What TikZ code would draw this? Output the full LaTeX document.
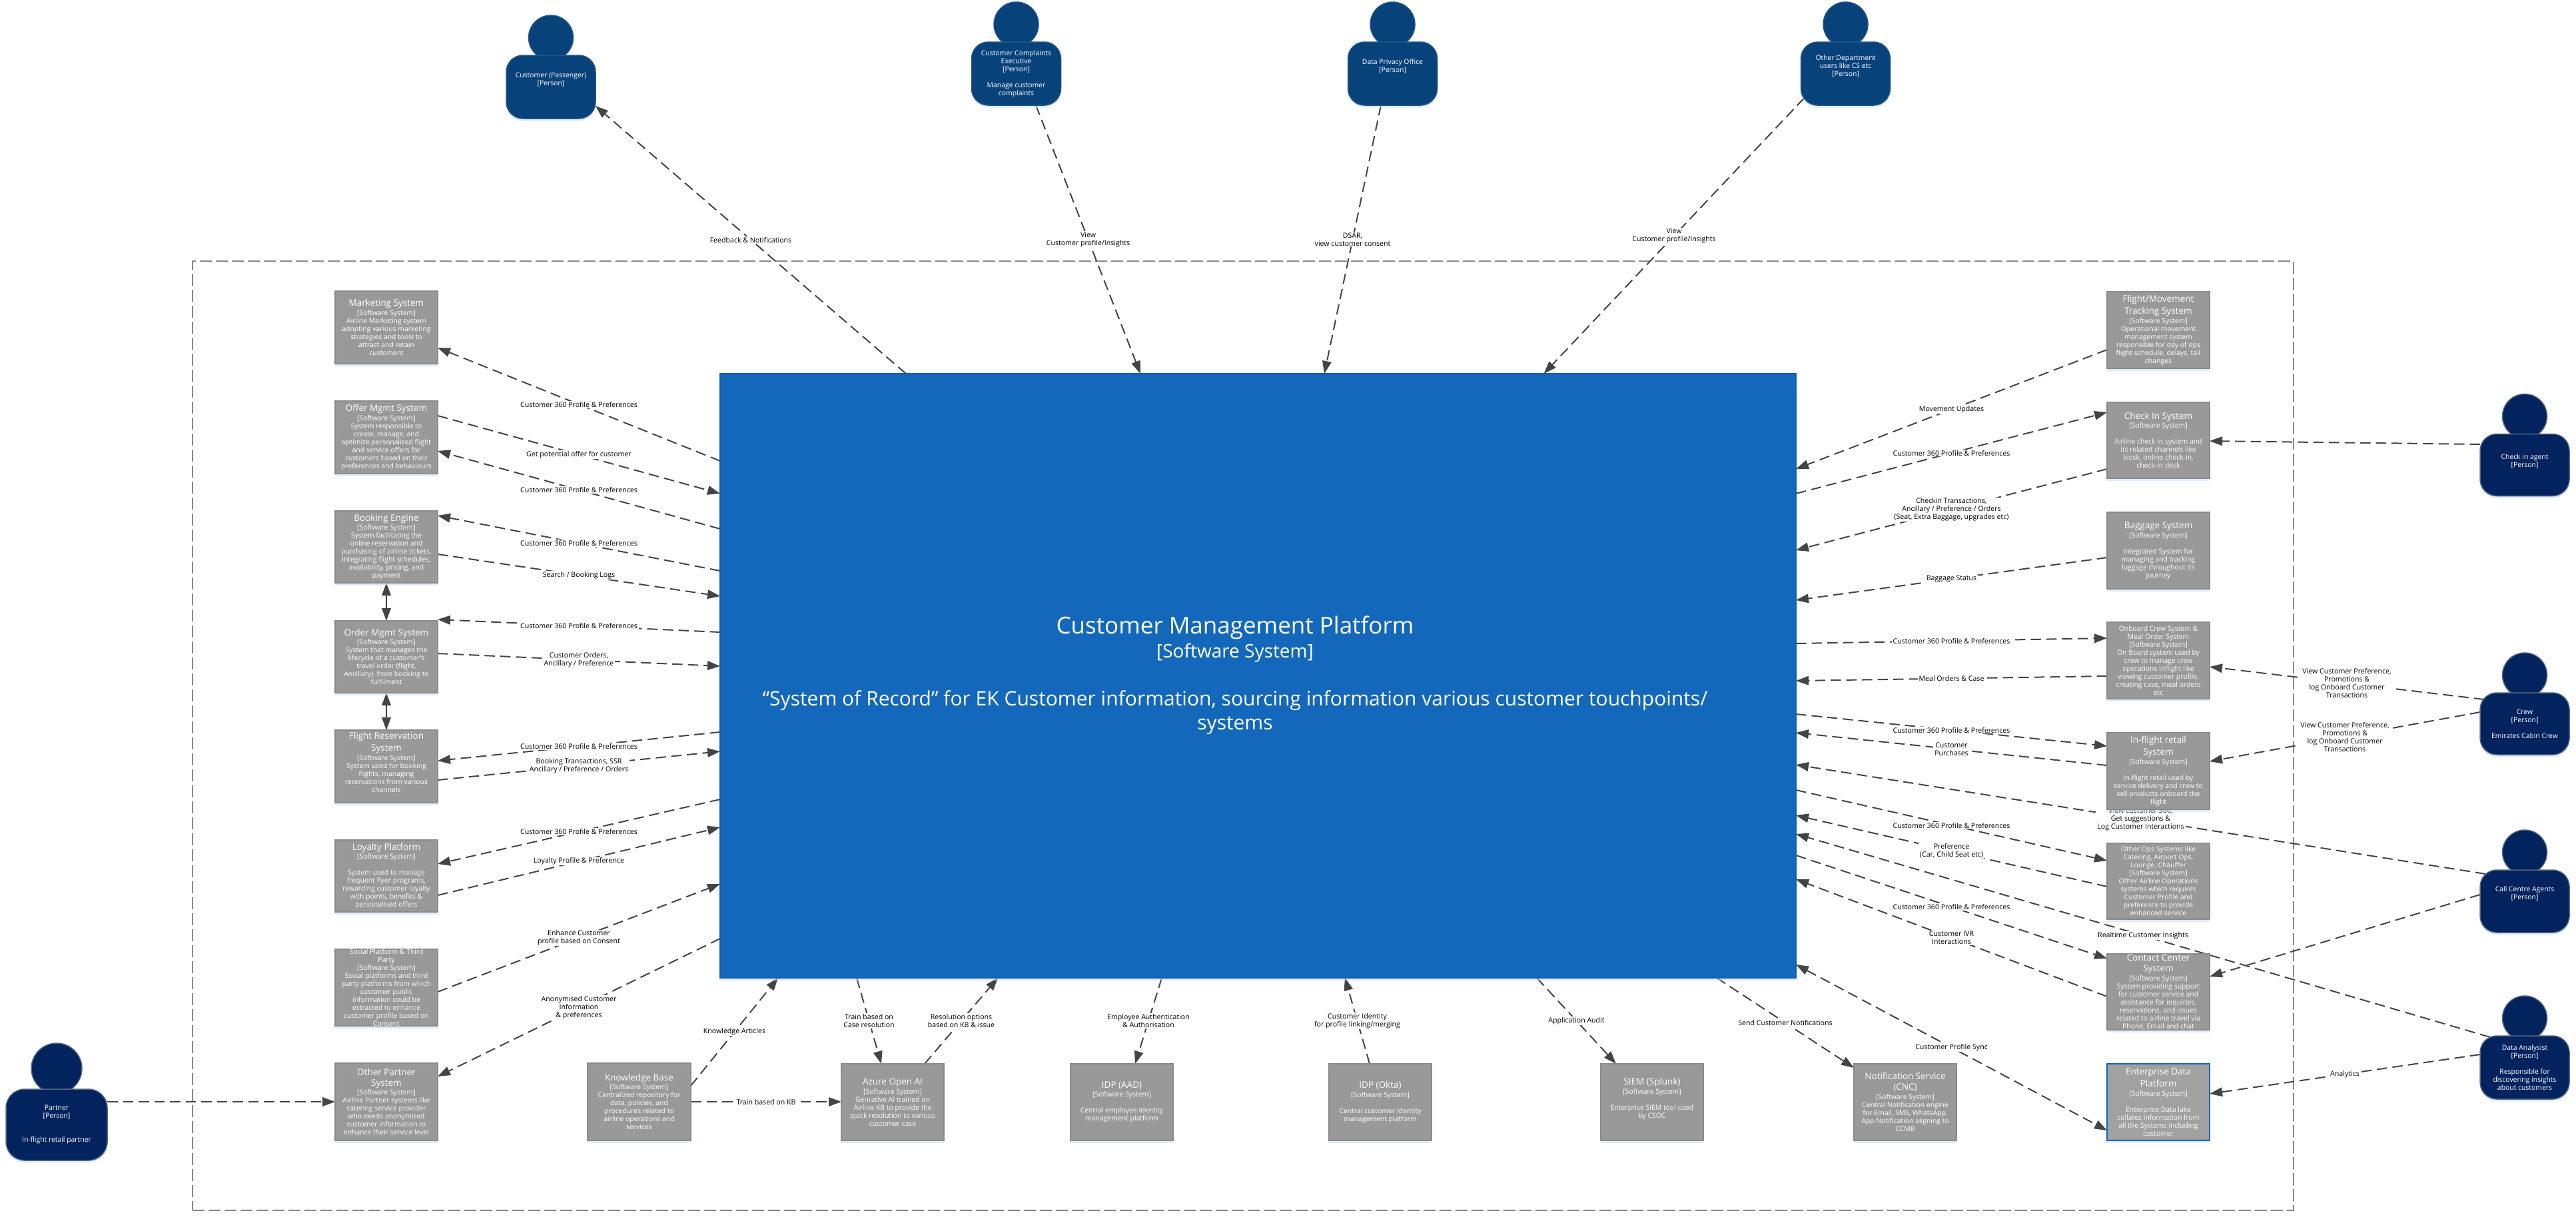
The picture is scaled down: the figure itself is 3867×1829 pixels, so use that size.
\documentclass[tikz,border=0pt]{standalone}
\usepackage{fontspec}
\setmainfont{Open Sans}
\usetikzlibrary{arrows.meta,shadows,calc}
\definecolor{sysgrey}{HTML}{999999}
\definecolor{sysedge}{HTML}{8B8B8B}
\definecolor{mainblue}{HTML}{1468BC}
\definecolor{mainedge}{HTML}{0F5EAB}
\definecolor{edpblue}{HTML}{1168BD}
\definecolor{topperson}{HTML}{08427B}
\definecolor{sideperson}{HTML}{03235E}
\definecolor{sideedge}{HTML}{56677F}
\definecolor{relcol}{HTML}{444444}
\definecolor{bndcol}{HTML}{888888}
\definecolor{shadowcol}{HTML}{C4DAF2}
\pgfdeclarelayer{bg}
\pgfsetlayers{bg,main}
\newcommand\tone[1]{{\fontsize{13.5}{16}\selectfont #1}\\[1.7pt]}
\newcommand\ttwo[2]{{\fontsize{13.5}{16}\selectfont #1}\\[4pt]{\fontsize{13.5}{16}\selectfont #2}\\[1.7pt]}
\newcommand\blk{~\\}
\newcommand\tailone{\\~}
\newcommand\tailtwo{\\~\\~}
\tikzset{
 softshadow/.style={drop shadow={shadow xshift=0pt,shadow yshift=-3.5pt,fill=shadowcol,opacity=0.55}},
 sysbox/.style={draw=sysedge,line width=1.6pt,fill=sysgrey,inner sep=0pt,outer sep=0pt,softshadow},
 edpbox/.style={draw=edpblue,line width=2.2pt,fill=black!37},
 boxtext/.style={text=white,align=center,inner sep=0pt,font=\fontsize{10.4}{12}\selectfont},
 mainbox/.style={draw=mainedge,line width=1.5pt,fill=mainblue,inner sep=0pt,outer sep=0pt,softshadow},
 maintext/.style={text=white,align=center,inner sep=0pt,font=\fontsize{30}{36}\selectfont},
 personbody/.style={inner sep=0pt,outer sep=0pt,line width=1.5pt,softshadow},
 personhead/.style={circle,inner sep=0pt,outer sep=0pt,line width=1.5pt},
 topp/.style={fill=topperson,draw=topperson!90!white},
 sidep/.style={fill=sideperson,draw=sideedge},
 bndbox/.style={draw=bndcol,line width=2pt,dash pattern=on 18pt off 6pt,inner sep=0pt,outer sep=0pt},
 rel/.style={draw=relcol,line width=2pt,dash pattern=on 15.5pt off 8pt,-{Triangle[length=19pt,width=13.5pt]}},
 relboth/.style={rel,{Triangle[length=19pt,width=13.5pt]}-{Triangle[length=19pt,width=13.5pt]}},
 relsolid/.style={draw=relcol,line width=2pt,{Triangle[length=19pt,width=13.5pt]}-{Triangle[length=19pt,width=13.5pt]}},
 lbl/.style={fill=white,text=black,align=center,inner xsep=2pt,inner ysep=1pt,font=\fontsize{10.6}{12}\selectfont}
}
% [opts]{name}{x0}{y0}{x1}{y1}{text}
\newcommand\sysnode[6][]{%
 \node[sysbox,#1,minimum width={#5-#3},minimum height={#6-#4}] (#2) at ({(#3+#5)/2},{(#4+#6)/2}) {};}
\newcommand\systext[2]{\node[boxtext] (#1-t) at (#1.center) {#2};}
% {name}{style}{cx}{top}{w}{h}{r}{headr}{headlift}
\newcommand\personnode[9]{%
 \node[personhead,#2,minimum size={2*#8}] (#1-h) at (#3,{#4-#9}) {};
 \node[personbody,#2,minimum width=#5,minimum height=#6,rounded corners=#7] (#1) at (#3,{#4+#6/2}) {};}
\begin{document}
\begin{tikzpicture}[x=1pt,y=-1pt]
\useasboundingbox (0,0) rectangle (3867,1829);

% central system
\node[mainbox,minimum width=1615,minimum height=907] (main) at (1888.5,1014.5) {};
\node[maintext] (main-t) at (1854,1014) {{\fontsize{35}{36}\selectfont Customer Management Platform}\\{\fontsize{28}{36}\selectfont [Software System]}\\ \blk “System of Record” for EK Customer information, sourcing information various customer touchpoints/\\systems};

% left column
\sysnode{marketing}{503}{437}{657}{546}
\systext{marketing}{\tone{Marketing System}{}[Software System]\\Airline Marketing system\\adopting various marketing\\strategies and tools to\\attract and retain\\customers}
\sysnode{offer}{503}{602}{657}{711}
\systext{offer}{\tone{Offer Mgmt System}{}[Software System]\\System responsible to\\create, manage, and\\optimize personalized flight\\and service offers for\\customers based on their\\preferences and behaviours}
\sysnode{booking}{503}{767}{657}{875}
\systext{booking}{\tone{Booking Engine}{}[Software System]\\System facilitating the\\online reservation and\\purchasing of airline tickets,\\integrating flight schedules,\\availability, pricing, and\\payment}
\sysnode{order}{503}{932}{657}{1040}
\systext{order}{\tone{Order Mgmt System}{}[Software System]\\System that manages the\\lifecycle of a customer's\\travel order (flight,\\Ancillary), from booking to\\fulfilment}
\sysnode{flightres}{503}{1096}{657}{1205}
\systext{flightres}{\ttwo{Flight Reservation}{System}{}[Software System]\\System used for booking\\flights, managing\\reservations from various\\channels\tailone}
\sysnode{loyalty}{503}{1261}{657}{1369}
\systext{loyalty}{\tone{Loyalty Platform}{}[Software System]\\ \blk System used to manage\\frequent flyer programs,\\rewarding customer loyalty\\with points, benefits \&\\personalised offers}
\sysnode{social}{503}{1425}{657}{1540}
\systext{social}{Social Platform \& Third\\Party\\{}[Software System]\\Social platforms and third\\party platforms from which\\customer public\\information could be\\extracted to enhance\\customer profile based on\\Consent}
\sysnode{partnersys}{503}{1596}{657}{1712}
\systext{partnersys}{\ttwo{Other Partner}{System}{}[Software System]\\Airline Partner systems like\\catering service provider\\who needs anonymised\\customer information to\\enhance their service level}

% bottom row
\sysnode{kb}{882}{1596}{1037}{1712}
\systext{kb}{\tone{Knowledge Base}{}[Software System]\\Centralized repository for\\data, policies, and\\procedures related to\\airline operations and\\services}
\sysnode{azure}{1263}{1597}{1417}{1712}
\systext{azure}{\tone{Azure Open AI}{}[Software System]\\Genrative AI trained on\\Airline KB to provide the\\quick resolution to various\\customer case}
\sysnode{aad}{1607}{1597}{1761}{1712}
\systext{aad}{\tone{IDP (AAD)}{}[Software System]\\ \blk Central employee Identity\\management platform}
\sysnode{okta}{1995}{1597}{2149}{1712}
\systext{okta}{\tone{IDP (Okta)}{}[Software System]\\ \blk Central customer Identity\\management platform}
\sysnode{siem}{2403}{1597}{2557}{1712}
\systext{siem}{\tone{SIEM (Splunk)}{}[Software System]\\ \blk Enterprise SIEM tool used\\by CSOC\tailone}
\sysnode{notif}{2783}{1597}{2937}{1712}
\systext{notif}{\ttwo{Notification Service}{(CNC)}{}[Software System]\\Central Notification engine\\for Email, SMS, WhatsApp,\\App Notification aligning to\\CCMB}

% right column
\sysnode{flightmove}{3163}{438}{3317}{553}
\systext{flightmove}{\ttwo{Flight/Movement}{Tracking System}{}[Software System]\\Operational movement\\management system\\responsible for day of ops\\flight schedule, delays, tail\\changes}
\sysnode{checkin}{3163}{604}{3317}{718}
\systext{checkin}{\tone{Check In System}{}[Software System]\\ \blk Airline check in system and\\its related channels like\\kiosk, online check-in,\\check-in desk}
\sysnode{baggage}{3163}{769}{3317}{884}
\systext{baggage}{\tone{Baggage System}{}[Software System]\\ \blk Integrated System for\\managing and tracking\\luggage throughout its\\journey}
\sysnode{onboard}{3163}{934}{3317}{1049}
\systext{onboard}{Onboard Crew System \&\\Meal Order System\\{}[Software System]\\On Board system used by\\crew to manage crew\\operations inflight like\\viewing customer profile,\\creating case, meal orders\\etc}
\sysnode{inflight}{3163}{1100}{3317}{1215}
\systext{inflight}{\ttwo{In-flight retail}{System}{}[Software System]\\ \blk In-flight retail used by\\service delivery and crew to\\sell products onboard the\\flight}
\sysnode{otherops}{3163}{1266}{3317}{1380}
\systext{otherops}{Other Ops Systems like\\Catering, Airport Ops,\\Lounge, Chauffer\\{}[Software System]\\Other Airline Operations\\systems which requires\\Customer Profile and\\preference to provide\\enhanced service}
\sysnode{contact}{3163}{1432}{3317}{1546}
\systext{contact}{\ttwo{Contact Center}{System}{}[Software System]\\System providing support\\for customer service and\\assistance for inquiries,\\reservations, and issues\\related to airline travel via\\Phone, Email and chat}
\sysnode[edpbox]{edp}{3163}{1597}{3317}{1712}
\systext{edp}{\ttwo{Enterprise Data}{Platform}{}[Software System]\\ \blk Enterprise Data lake\\collates information from\\all the Systems including\\customer}

% people
\personnode{pcust}{topp}{827}{83}{134}{95}{25}{33.5}{26.5}
\systext{pcust}{Customer (Passenger)\\{}[Person]\tailtwo}
\personnode{pcomp}{topp}{1525.5}{63}{134}{95}{25}{33.5}{26.5}
\systext{pcomp}{Customer Complaints\\Executive\\{}[Person]\\ \blk Manage customer\\complaints}
\personnode{pdpo}{topp}{2090.5}{63}{134}{95}{25}{33.5}{26.5}
\systext{pdpo}{Data Privacy Office\\{}[Person]\tailtwo}
\personnode{pdept}{topp}{2770.5}{63}{134}{95}{25}{33.5}{26.5}
\systext{pdept}{Other Department\\users like CS etc\\{}[Person]\tailtwo}
\personnode{ppartner}{sidep}{85}{1635}{152}{107}{28}{38}{31}
\systext{ppartner}{Partner\\{}[Person]\\ \blk\blk In-flight retail partner}
\personnode{pagent}{sidep}{3790}{651.5}{134}{93}{25}{33.5}{26.5}
\systext{pagent}{Check in agent\\{}[Person]\tailone}
\personnode{pcrew}{sidep}{3790}{1040}{134}{93}{25}{33.5}{26.5}
\systext{pcrew}{Crew\\{}[Person]\\ \blk Emirates Cabin Crew}
\personnode{pcall}{sidep}{3790}{1306}{134}{94}{25}{33.5}{26.5}
\systext{pcall}{Call Centre Agents\\{}[Person]\tailtwo}
\personnode{pana}{sidep}{3790}{1555}{134}{95}{25}{33.5}{26.5}
\systext{pana}{Data Analysist\\{}[Person]\\ \blk Responsible for\\discovering insights\\about customers}

\begin{pgfonlayer}{bg}
\node[bndbox,minimum width=3154,minimum height=1425] (bnd) at (1866,1104.5) {};

% left side
\draw[rel] (main.west |- 0,692) -- node[lbl] {Customer 360 Profile \& Preferences} (marketing.east |- 0,522);
\draw[rel] (offer.east |- 0,624) -- node[lbl] {Get potential offer for customer} (main.west |- 0,741);
\draw[rel] (main.west |- 0,794) -- node[lbl] {Customer 360 Profile \& Preferences} (offer.east |- 0,677);
\draw[rel] (main.west |- 0,857) -- node[lbl] {Customer 360 Profile \& Preferences} (booking.east |- 0,774);
\draw[rel] (booking.east |- 0,832) -- node[lbl] {Search / Booking Logs} (main.west |- 0,895);
\draw[relsolid] (booking.south) -- (order.north);
\draw[rel] (main.west |- 0,949) -- node[lbl] {Customer 360 Profile \& Preferences} (order.east |- 0,930);
\draw[rel] (order.east |- 0,981) -- node[lbl] {Customer Orders,\\Ancillary / Preference} (main.west |- 0,1000);
\draw[relsolid] (order.south) -- (flightres.north);
\draw[rel] (main.west |- 0,1099) -- node[lbl] {Customer 360 Profile \& Preferences} (flightres.east |- 0,1142);
\draw[rel] (flightres.east |- 0,1171) -- node[lbl] {Booking Transactions, SSR\\Ancillary / Preference / Orders} (main.west |- 0,1128);
\draw[rel] (main.west |- 0,1200) -- node[lbl] {Customer 360 Profile \& Preferences} (loyalty.east |- 0,1297);
\draw[rel] (loyalty.east |- 0,1344) -- node[lbl] {Loyalty Profile \& Preference} (main.west |- 0,1242);
\draw[rel] (social.east |- 0,1489) -- node[lbl] {Enhance Customer\\profile based on Consent} (main.west |- 0,1327);
\draw[rel] (main.west |- 0,1409) -- node[lbl] {Anonymised Customer\\Information\\\& preferences} (partnersys.east |- 0,1616);
\draw[rel] (ppartner.east |- 0,1654) -- (partnersys.west |- 0,1654);

% bottom side
\draw[rel] (kb.east |- 0,1630) -- node[lbl] {Knowledge Articles} (1168,0 |- main.south);
\draw[rel] (kb.east |- 0,1654) -- node[lbl] {Train based on KB} (azure.west |- 0,1654);
\draw[rel] (1286,0 |- main.south) -- node[lbl] {Train based on\\Case resolution} (1323,0 |- azure.north);
\draw[rel] (1388,0 |- azure.north) -- node[lbl] {Resolution options\\based on KB \& issue} (1498,0 |- main.south);
\draw[rel] (1744,0 |- main.south) -- node[lbl] {Employee Authentication\\\& Authorisation} (1704,0 |- aad.north);
\draw[rel] (2056,0 |- okta.north) -- node[lbl] {Customer Identity\\for profile linking/merging} (2019,0 |- main.south);
\draw[rel] (2307,0 |- main.south) -- node[lbl] {Application Audit} (2426,0 |- siem.north);
\draw[rel] (2577,0 |- main.south) -- node[lbl] {Send Customer Notifications} (notif.west |- 0,1603);
\draw[relboth] (main.east |- 0,1448) -- node[lbl] {Customer Profile Sync} (edp.west |- 0,1697);

% right side
\draw[rel] (flightmove.west |- 0,525) -- node[lbl] {Movement Updates} (main.east |- 0,704);
\draw[rel] (main.east |- 0,741) -- node[lbl] {Customer 360 Profile \& Preferences} (checkin.west |- 0,619);
\draw[rel] (checkin.west |- 0,704) -- node[lbl] {Checkin Transactions,\\Ancillary / Preference / Orders\\(Seat, Extra Baggage, upgrades etc)} (main.east |- 0,826);
\draw[rel] (baggage.west |- 0,837) -- node[lbl] {Baggage Status} (main.east |- 0,901);
\draw[rel] (main.east |- 0,966) -- node[lbl] {Customer 360 Profile \& Preferences} (onboard.west |- 0,958);
\draw[rel] (onboard.west |- 0,1015) -- node[lbl] {Meal Orders \& Case} (main.east |- 0,1022);
\draw[rel] (main.east |- 0,1072) -- node[lbl] {Customer 360 Profile \& Preferences} (inflight.west |- 0,1120);
\draw[rel] (inflight.west |- 0,1149) -- node[lbl] {Customer\\Purchases} (main.east |- 0,1100);
\draw[rel] ($(pcall.west |- 0,1312)+(8,0)$) -- node[lbl] {View customer 360,\\Get suggestions \&\\Log Customer Interactions} (main.east |- 0,1148);
\draw[rel] (main.east |- 0,1186) -- node[lbl] {Customer 360 Profile \& Preferences} (otherops.west |- 0,1292);
\draw[rel] (otherops.west |- 0,1331) -- node[lbl] {Preference\\(Car, Child Seat etc)} (main.east |- 0,1224);
\draw[rel] ($(pana.west |- 0,1557)+(15,0)$) -- node[lbl] {Realtime Customer Insights} (main.east |- 0,1252);
\draw[rel] (main.east |- 0,1284) -- node[lbl] {Customer 360 Profile \& Preferences} (contact.west |- 0,1439);
\draw[rel] (contact.west |- 0,1496) -- node[lbl] {Customer IVR\\Interactions} (main.east |- 0,1320);

% people, right
\draw[rel] (pagent.west |- 0,667) -- (checkin.east |- 0,662);
\draw[rel] ($(pcrew.west |- 0,1050)+(6,0)$) -- node[lbl] {View Customer Preference,\\Promotions \&\\log Onboard Customer\\Transactions} (onboard.east |- 0,1001);
\draw[rel] (pcrew.west |- 0,1069) -- node[lbl] {View Customer Preference,\\Promotions \&\\log Onboard Customer\\Transactions} (inflight.east |- 0,1143);
\draw[rel] (pcall.west |- 0,1343) -- (contact.east |- 0,1466);
\draw[rel] (pana.west |- 0,1583) -- node[lbl] {Analytics} (edp.east |- 0,1642);

% people, top
\draw[rel] (1360,0 |- main.north) -- node[lbl] {Feedback \& Notifications} (pcust.east |- 0,159);
\draw[rel] (1555,0 |- pcomp.south) -- node[lbl] {View\\Customer profile/Insights} (1712,0 |- main.north);
\draw[rel] (2073,0 |- pdpo.south) -- node[lbl] {DSAR,\\view customer consent} (1988,0 |- main.north);
\draw[rel] ($(pdept.west |- 0,147)+(5,0)$) -- node[lbl] {View\\Customer profile/Insights} (2317.5,0 |- main.north);
\end{pgfonlayer}
\end{tikzpicture}
\end{document}
